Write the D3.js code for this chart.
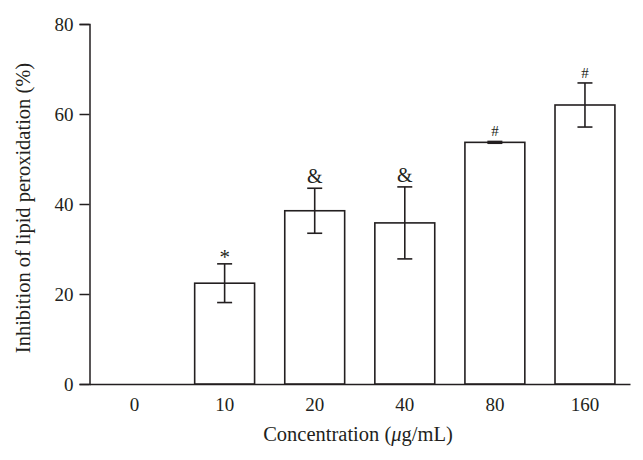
<!DOCTYPE html>
<html>
<head>
<meta charset="utf-8">
<script src="https://cdn.jsdelivr.net/npm/d3@7"></script>
<style>
  body { margin: 0; background: #fff; }
  text { font-family: "Liberation Serif", "DejaVu Serif", serif; fill: #231f20; }
</style>
</head>
<body>
<svg id="chart" width="643" height="460"></svg>
<script>
const concentrations = ["0", "10", "20", "40", "80", "160"];
const inhibition = [0, 22.4, 38.5, 35.8, 53.7, 62.0];
const errors = [0, 4.3, 5.0, 8.0, 0.2, 4.9];
const marks = ["", "*", "&", "&", "#", "#"];
const yTicks = [0, 20, 40, 60, 80];

const svg = d3.select("#chart");
const ink = "#231f20";

const x = d3.scaleBand()
  .domain(concentrations)
  .range([89.5, 630])
  .paddingInner(0.335)
  .paddingOuter(0.1675);

const y = d3.scaleLinear()
  .domain([0, 80])
  .range([384, 24]);

// y axis
const yAxis = svg.append("g")
  .attr("transform", "translate(89.5,0)")
  .call(d3.axisLeft(y).tickValues(yTicks).tickSize(10).tickPadding(6));
yAxis.select(".domain").attr("stroke", ink).attr("stroke-width", 1.5);
yAxis.selectAll(".tick line").attr("stroke", ink).attr("stroke-width", 1.5);
yAxis.selectAll(".tick text")
  .style("font-size", "19px")
  .style("font-family", "'Liberation Serif', serif")
  .attr("fill", ink);

// x axis
const xAxis = svg.append("g")
  .attr("transform", "translate(0,384)")
  .call(d3.axisBottom(x).tickSize(0).tickPadding(14).tickSizeOuter(0));
xAxis.select(".domain").attr("stroke", ink).attr("stroke-width", 1.5);
xAxis.selectAll(".tick text")
  .style("font-size", "19px")
  .style("font-family", "'Liberation Serif', serif")
  .attr("fill", ink);

const rows = concentrations.map((c, i) => ({
  c, v: inhibition[i], e: errors[i], m: marks[i]
}));

// bars
svg.append("g").selectAll("rect")
  .data(rows.filter(d => d.v > 0))
  .join("rect")
  .attr("x", d => x(d.c))
  .attr("y", d => y(d.v))
  .attr("width", x.bandwidth())
  .attr("height", d => y(0) - y(d.v))
  .attr("fill", "#fff")
  .attr("stroke", ink)
  .attr("stroke-width", 1.6);

// error bars
const eb = svg.append("g").attr("stroke", ink).attr("stroke-width", 1.6);
rows.filter(d => d.v > 0).forEach(d => {
  const cx = x(d.c) + x.bandwidth() / 2;
  eb.append("line")
    .attr("x1", cx).attr("x2", cx)
    .attr("y1", y(d.v + d.e)).attr("y2", y(d.v - d.e));
  [d.v + d.e, d.v - d.e].forEach(val => {
    eb.append("line")
      .attr("x1", cx - 7.5).attr("x2", cx + 7.5)
      .attr("y1", y(val)).attr("y2", y(val));
  });
});

// significance marks
svg.append("g").selectAll("text")
  .data(rows.filter(d => d.m))
  .join("text")
  .attr("x", d => x(d.c) + x.bandwidth() / 2)
  .attr("y", d => y(d.v + d.e) - (d.m === "*" ? 0 : 5))
  .attr("text-anchor", "middle")
  .style("font-size", d => d.m === "&" ? "20px" : (d.m === "*" ? "21px" : "15px"))
  .text(d => d.m);

// axis titles
svg.append("text")
  .attr("x", 358)
  .attr("y", 441)
  .attr("text-anchor", "middle")
  .style("font-size", "20.5px")
  .text("Concentration (")
  .append("tspan").style("font-style", "italic").text("μ")
  .select(function() { return this.parentNode; })
  .append("tspan").text("g/mL)");

svg.append("text")
  .attr("transform", "translate(30,208) rotate(-90)")
  .attr("text-anchor", "middle")
  .style("font-size", "20.5px")
  .text("Inhibition of lipid peroxidation (%)");
</script>
</body>
</html>
